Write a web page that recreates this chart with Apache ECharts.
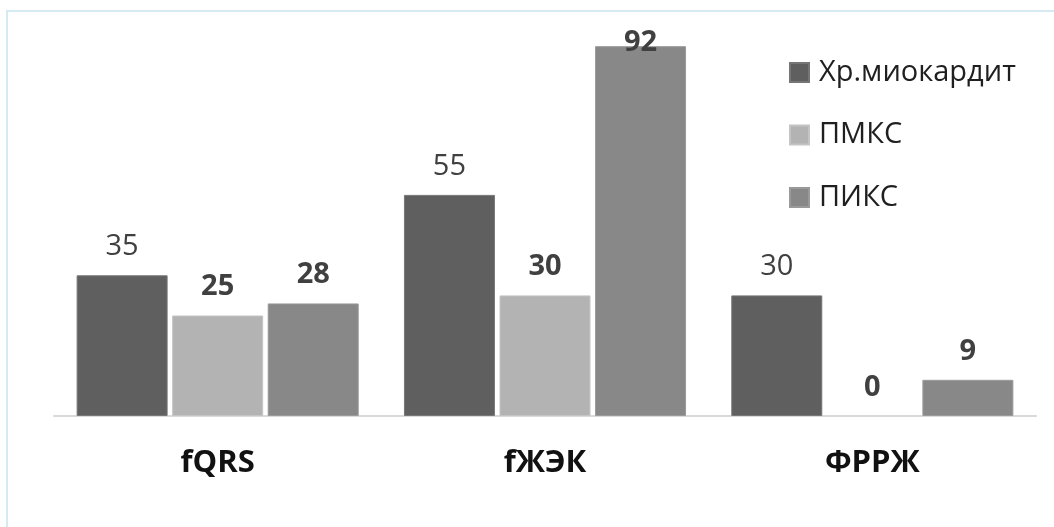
<!DOCTYPE html>
<html>
<head>
<meta charset="utf-8">
<script src="https://cdn.jsdelivr.net/npm/echarts@6/dist/echarts.min.js"></script>
<style>
  html, body { margin: 0; padding: 0; background: #fff; }
  #chart { width: 1054px; height: 527px; }
</style>
</head>
<body>
<div id="chart"></div>
<script>
// Categories and series values
const categories = ['fQRS', 'fЖЭК', 'ФРРЖ'];
const seriesNames = ['Хр.миокардит', 'ПМКС', 'ПИКС'];
const chronicMyocarditis = [35, 55, 30];
const pmks = [25, 30, 0];
const piks = [28, 92, 9];

const FONT = '"Open Sans", "Noto Sans", sans-serif';
const colors = ['#5f5f5f', '#b3b3b3', '#888888'];
const borders = ['#767676', '#c4c4c4', '#9a9a9a'];
const labelBold = ['normal', 'bold', 'bold'];

const GRID = { left: 54, right: 18, top: 14, bottom: 111 };
const Y_MAX = 100;
const PLOT_H = 527 - GRID.top - GRID.bottom;
const LABEL_DIST = 14;
const LABEL_FONT = 29;
const LABEL_MIN_TOP = 28;

// keep value labels from leaving the chart at the top
function labelDistance(v) {
  const barTop = GRID.top + (1 - v / Y_MAX) * PLOT_H;
  return Math.min(LABEL_DIST, barTop - LABEL_MIN_TOP - LABEL_FONT);
}

function makeSeries(name, values, i) {
  return {
    name: name,
    type: 'bar',
    barWidth: 91,
    barGap: '5%',
    itemStyle: { color: colors[i], borderColor: borders[i], borderWidth: 1 },
    label: {
      show: true,
      position: 'top',
      color: '#404040',
      fontFamily: FONT,
      fontSize: LABEL_FONT,
      fontWeight: labelBold[i]
    },
    data: values.map(v => ({
      value: v,
      label: { distance: labelDistance(v) },
      itemStyle: { borderWidth: v === 0 ? 0 : 1 }
    }))
  };
}

const chart = echarts.init(document.getElementById('chart'), null, { renderer: 'canvas' });
chart.setOption({
  animation: false,
  backgroundColor: '#ffffff',
  graphic: [{
    type: 'rect',
    shape: { x: 7, y: 11, width: 1200, height: 700 },
    style: { fill: 'none', stroke: '#d6eaf3', lineWidth: 2 },
    silent: true,
    z: -10
  }],
  grid: GRID,
  legend: {
    orient: 'vertical',
    left: 789,
    top: 58,
    padding: 0,
    itemWidth: 19,
    itemHeight: 19,
    itemGap: 33.5,
    icon: 'rect',
    textStyle: { fontFamily: FONT, fontSize: 29, color: '#1f1f1f', padding: [0, 0, 0, 5] },
    data: seriesNames
  },
  xAxis: {
    type: 'category',
    data: categories,
    axisTick: { show: false },
    axisLine: { lineStyle: { color: '#d9d9d9', width: 2 } },
    axisLabel: {
      margin: 32,
      color: '#111111',
      fontFamily: FONT,
      fontSize: 31,
      fontWeight: 'bold'
    }
  },
  yAxis: {
    type: 'value',
    min: 0,
    max: Y_MAX,
    show: false,
    splitLine: { show: false }
  },
  series: [
    makeSeries(seriesNames[0], chronicMyocarditis, 0),
    makeSeries(seriesNames[1], pmks, 1),
    makeSeries(seriesNames[2], piks, 2)
  ]
});
</script>
</body>
</html>
